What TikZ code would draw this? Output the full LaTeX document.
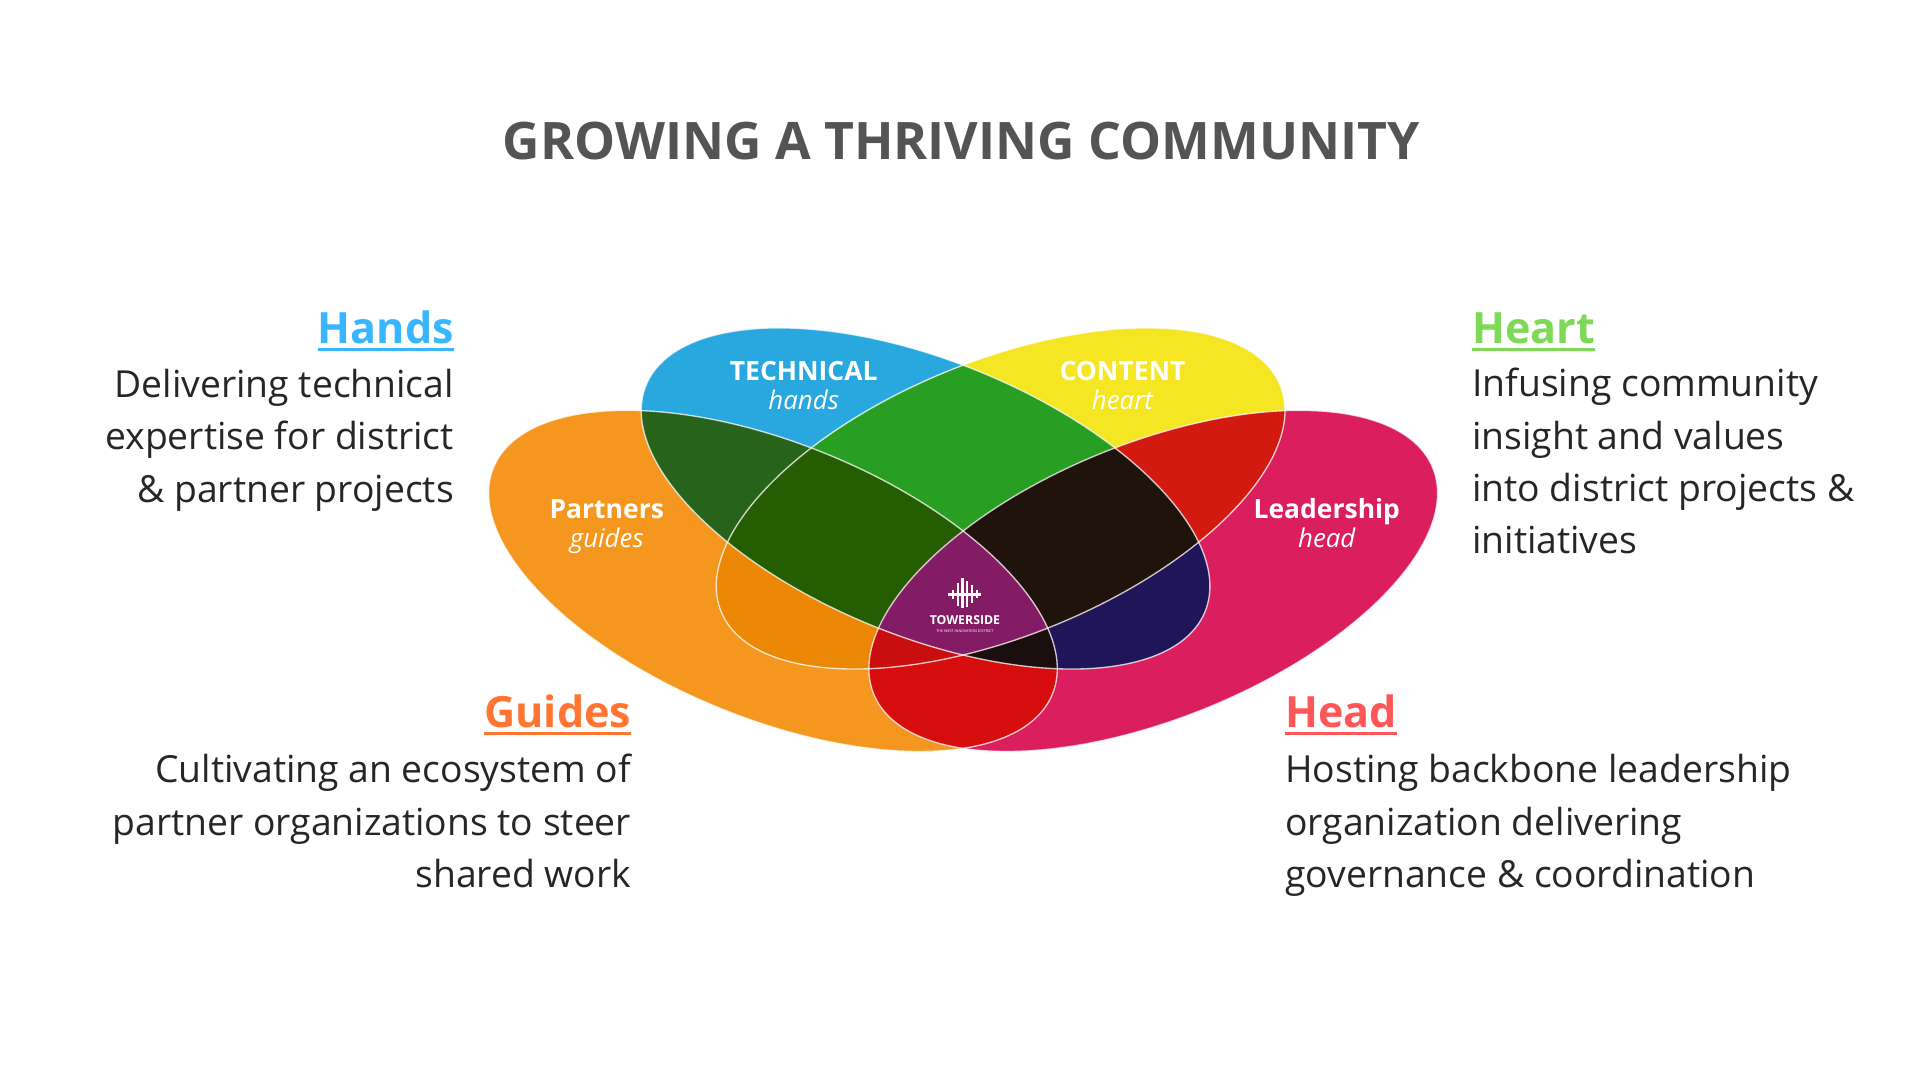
\documentclass[tikz,border=0pt]{standalone}
\usepackage{fontspec}
\setmainfont{Open Sans}
\begin{document}
\begin{tikzpicture}[x=1pt,y=1pt,
  eB/.style={rotate around={-22:(752,-405)}},
  eY/.style={rotate around={22:(813,-405)}},
  eO/.style={rotate around={-22:(628,-472)}},
  eP/.style={rotate around={22:(937,-472)}},
  lbl/.style={text=white,font=\bfseries\fontsize{21.5}{24}\selectfont,inner sep=0,anchor=base},
  lbli/.style={text=white,font=\itshape\fontsize{21}{24}\selectfont,inner sep=0,anchor=base},
  body/.style={font=\fontsize{30.3}{42.5}\selectfont,text=black!85,inner sep=0},
  head/.style={font=\bfseries\fontsize{35}{40}\selectfont,inner sep=0},
  outl/.style={draw=white,draw opacity=0.75,line width=1.1pt}]
\def\PB{(752,-405) ellipse [x radius=245,y radius=112]}
\def\PY{(813,-405) ellipse [x radius=245,y radius=112]}
\def\PO{(628,-472) ellipse [x radius=245,y radius=112]}
\def\PP{(937,-472) ellipse [x radius=245,y radius=112]}
\useasboundingbox (0,0) rectangle (1560,-877.5);
\fill[white] (0,0) rectangle (1560,-877.5);
% base ellipses
\fill[eO,fill={rgb,255:red,245;green,150;blue,30}] \PO;
\fill[eP,fill={rgb,255:red,219;green,31;blue,94}] \PP;
\fill[eB,fill={rgb,255:red,41;green,168;blue,224}] \PB;
\fill[eY,fill={rgb,255:red,244;green,230;blue,34}] \PY;
% pairs
\begin{scope}\clip[eB]\PB; \fill[eY,fill={rgb,255:red,40;green,158;blue,35}]\PY; \end{scope}
\begin{scope}\clip[eB]\PB; \fill[eO,fill={rgb,255:red,40;green,99;blue,28}]\PO; \end{scope}
\begin{scope}\clip[eB]\PB; \fill[eP,fill={rgb,255:red,32;green,21;blue,88}]\PP; \end{scope}
\begin{scope}\clip[eY]\PY; \fill[eO,fill={rgb,255:red,236;green,136;blue,5}]\PO; \end{scope}
\begin{scope}\clip[eY]\PY; \fill[eP,fill={rgb,255:red,210;green,26;blue,17}]\PP; \end{scope}
\begin{scope}\clip[eO]\PO; \fill[eP,fill={rgb,255:red,215;green,14;blue,14}]\PP; \end{scope}
% triples
\begin{scope}\clip[eB]\PB; \clip[eY]\PY; \fill[eO,fill={rgb,255:red,37;green,94;blue,2}]\PO; \end{scope}
\begin{scope}\clip[eB]\PB; \clip[eY]\PY; \fill[eP,fill={rgb,255:red,32;green,19;blue,12}]\PP; \end{scope}
\begin{scope}\clip[eB]\PB; \clip[eO]\PO; \fill[eP,fill={rgb,255:red,26;green,14;blue,14}]\PP; \end{scope}
\begin{scope}\clip[eY]\PY; \clip[eO]\PO; \fill[eP,fill={rgb,255:red,200;green,14;blue,14}]\PP; \end{scope}
\begin{scope}\clip[eB]\PB; \clip[eY]\PY; \clip[eO]\PO; \fill[eP,fill={rgb,255:red,131;green,28;blue,100}]\PP; \end{scope}
% outlines
\draw[eO,outl]\PO; \draw[eP,outl]\PP; \draw[eB,outl]\PB; \draw[eY,outl]\PY;
% ellipse labels
\node[lbl] (tech) at (653,-309) {TECHNICAL};
\node[lbli] (techs) at (653,-333) {hands};
\node[lbl] (cont) at (912,-309) {CONTENT};
\node[lbli] (conts) at (912,-333) {heart};
\node[lbl] (part) at (493,-421) {Partners};
\node[lbli] (parts) at (493,-445) {guides};
\node[lbl] (lead) at (1078,-421) {Leadership};
\node[lbli] (leads) at (1078,-445) {head};
% logo
\draw[white,line width=1.7pt] (770,-483)--(797,-483)
  (774,-479)--(774,-487) (778,-474)--(778,-492) (782,-470)--(782,-494)
  (786,-472)--(786,-493) (790,-475)--(790,-490) (794,-479)--(794,-486);
\node[text=white,font=\bfseries\fontsize{10}{11}\selectfont,inner sep=0,anchor=base] (tw) at (784,-507) {TOWERSIDE};
\node[text=white,font=\fontsize{3}{3.5}\selectfont,inner sep=0,anchor=base] (tws) at (784,-514) {THE WEST INNOVATION DISTRICT};
% title
\node[font=\bfseries\fontsize{42}{48}\selectfont,text=black!67,inner sep=0,anchor=base] (title) at (781,-130) {GROWING A THRIVING COMMUNITY};
% side texts
\definecolor{cH}{RGB}{56,182,255}
\definecolor{cHe}{RGB}{126,217,87}
\definecolor{cG}{RGB}{255,117,49}
\definecolor{cHd}{RGB}{255,87,87}
\node[head,text=cH,anchor=base east] (hands) at (369,-279) {Hands};
\draw[cH,line width=2.5pt] ([yshift=-5pt]hands.base west)--([yshift=-5pt]hands.base east);
\node[body,anchor=base east,align=right] (handst) at (369,-408) {Delivering technical\\expertise for district\\\& partner projects};
\node[head,text=cHe,anchor=base west] (heart) at (1196,-279) {Heart};
\draw[cHe,line width=2.5pt] ([yshift=-5pt]heart.base west)--([yshift=-5pt]heart.base east);
\node[body,anchor=base west,align=left] (heartt) at (1196,-450) {Infusing community\\insight and values\\into district projects \&\\initiatives};
\node[head,text=cG,anchor=base east] (guides) at (513,-591) {Guides};
\draw[cG,line width=2.5pt] ([yshift=-5pt]guides.base west)--([yshift=-5pt]guides.base east);
\node[body,anchor=base east,align=right] (guidest) at (513,-721) {Cultivating an ecosystem of\\partner organizations to steer\\shared work};
\node[head,text=cHd,anchor=base west] (headh) at (1044,-591) {Head};
\draw[cHd,line width=2.5pt] ([yshift=-5pt]headh.base west)--([yshift=-5pt]headh.base east);
\node[body,anchor=base west,align=left] (headt) at (1044,-721) {Hosting backbone leadership\\organization delivering\\governance \& coordination};
\end{tikzpicture}
\end{document}
